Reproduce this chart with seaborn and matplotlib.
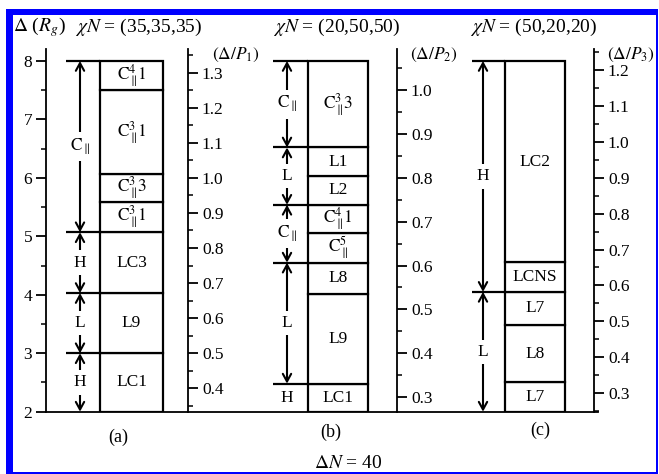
import matplotlib
matplotlib.use('Agg')
import matplotlib.pyplot as plt
from matplotlib.patches import Rectangle
from matplotlib.ticker import MultipleLocator, FixedLocator, FormatStrFormatter
import seaborn as sns

# ---------------- data ----------------
CP = r'$\mathrm{C}_{\parallel}$'
def cpar(sup, tail=''):
    if tail:
        return r'$\mathrm{C}_{\parallel}^{%s}\!\mathrm{%s}$' % (sup, tail)
    return r'$\mathrm{C}_{\parallel}^{%s}$' % sup

# panel (a)  chiN = (35,35,35)
a_bounds = [2.0, 3.0, 4.03, 5.07, 5.59, 6.06, 7.50, 8.0]
a_phases = ['LC1', 'L9', 'LC3', cpar('3', '1'), cpar('3', '3'), cpar('3', '1'), cpar('4', '1')]
a_reg_bounds = [2.0, 3.0, 4.03, 5.07, 8.0]
a_regions = ['H', 'L', 'H', CP]

# panel (b)  chiN = (20,50,50)
b_bounds = [2.0, 2.48, 4.02, 4.55, 5.055, 5.54, 6.03, 6.52, 8.0]
b_phases = ['LC1', 'L9', 'L8', cpar('5'), cpar('4', '1'), 'L2', 'L1', cpar('3', '3')]
b_reg_bounds = [2.48, 4.55, 5.54, 6.52, 8.0]
b_regions = ['L', CP, 'L', CP]
b_base_region = 'H'

# panel (c)  chiN = (50,20,20)
c_bounds = [2.0, 2.50, 3.49, 4.05, 4.56, 8.0]
c_phases = ['L7', 'L8', 'L7', 'LCNS', 'LC2']
c_reg_bounds = [2.0, 4.05, 8.0]
c_regions = ['L', 'H']

# secondary-axis conversions  Delta/R_g = slope * Delta/P + offset
p_slopes = [6.0, 7.5, 6.137]
p_offsets = [0.0, 0.0, 0.479]
p_ticks = [
    [0.4, 0.5, 0.6, 0.7, 0.8, 0.9, 1.0, 1.1, 1.2, 1.3],
    [0.3, 0.4, 0.5, 0.6, 0.7, 0.8, 0.9, 1.0],
    [0.3, 0.4, 0.5, 0.6, 0.7, 0.8, 0.9, 1.0, 1.1, 1.2],
]
p_minor = [
    [0.35, 0.45, 0.55, 0.65, 0.75, 0.85, 0.95, 1.05, 1.15, 1.25, 1.35],
    [0.35, 0.45, 0.55, 0.65, 0.75, 0.85, 0.95, 1.05],
    [0.25, 0.35, 0.45, 0.55, 0.65, 0.75, 0.85, 0.95, 1.05, 1.15, 1.25],
]

left_ticks = [2, 3, 4, 5, 6, 7, 8]
titles = [r'$\chi N$ = (35,35,35)', r'$\chi N$ = (20,50,50)', r'$\chi N$ = (50,20,20)']
panel_tags = ['(a)', '(b)', '(c)']

# ---------------- style ----------------
sns.set_theme(style='ticks')
plt.rcParams['font.family'] = ['Liberation Serif', 'DejaVu Serif']
plt.rcParams['mathtext.fontset'] = 'stix'
plt.rcParams['axes.edgecolor'] = 'black'
plt.rcParams['xtick.color'] = 'black'
plt.rcParams['ytick.color'] = 'black'
plt.rcParams['text.color'] = 'black'
plt.rcParams['axes.linewidth'] = 1.3

W, H = 659, 474
fig = plt.figure(figsize=(W / 100, H / 100), dpi=100)
fig.patch.set_facecolor('white')

x0, x1 = 46, 598
ytop_px, ybot_px = 49.3, 411.7
ax = fig.add_axes([x0 / W, 1 - ybot_px / H, (x1 - x0) / W, (ybot_px - ytop_px) / H])
ax.set_xlim(x0, x1)
ax.set_ylim(2, 8.2)
ax.set_facecolor('white')
for s in ['top', 'right']:
    ax.spines[s].set_visible(False)
ax.set_xticks([])
ax.set_yticks(left_ticks)
ax.yaxis.set_minor_locator(MultipleLocator(0.5))
ax.tick_params(axis='y', which='major', direction='out', length=7, width=1.3,
               labelsize=12.5, pad=3, left=True)
ax.tick_params(axis='y', which='minor', direction='out', length=3.5, width=1.1, left=True)
ax.grid(False)

# layout (pixel-like x units)
layout = [
    dict(col=66, box=(100, 163), arr=80, sec=188),
    dict(col=273, box=(308, 368), arr=287, sec=397),
    dict(col=472, box=(505, 565), arr=483, sec=594),
]
panels = [
    (a_bounds, a_phases, a_reg_bounds, a_regions),
    (b_bounds, b_phases, b_reg_bounds, b_regions),
    (c_bounds, c_phases, c_reg_bounds, c_regions),
]

arrow_style = '<->,head_length=0.55,head_width=0.3'

for i, ((bounds, phases, rb, regions), lay) in enumerate(zip(panels, layout)):
    bl, br = lay['box']
    lows = bounds[:-1]
    heights = [hi - lo for lo, hi in zip(bounds[:-1], bounds[1:])]
    ax.bar([bl] * len(lows), heights, bottom=lows, width=br - bl, align='edge',
           color='white', edgecolor='black', linewidth=1.6, zorder=2)
    for lo, hi, lab in zip(bounds[:-1], bounds[1:], phases):
        ax.text((bl + br) / 2, (lo + hi) / 2, lab, ha='center', va='center',
                fontsize=12.5, zorder=6)
    # region boundary lines in arrow column
    ax.hlines([b for b in rb if b > 2.0], lay['col'], bl, color='black', lw=1.6, zorder=3)
    # arrows
    for lo, hi, lab in zip(rb[:-1], rb[1:], regions):
        ax.annotate('', xy=(lay['arr'], hi), xytext=(lay['arr'], lo),
                    arrowprops=dict(arrowstyle=arrow_style, lw=1.5, color='black',
                                    shrinkA=0, shrinkB=0, mutation_scale=10),
                    zorder=4)
        ax.text(lay['arr'], (lo + hi) / 2, lab, ha='center', va='center', fontsize=12.5,
                bbox=dict(fc='white', ec='none', pad=3), zorder=5)
    # secondary axis
    k, off = p_slopes[i], p_offsets[i]
    loc = (lay['sec'] - x0) / (x1 - x0)
    sec = ax.secondary_yaxis(loc, functions=(lambda y, k=k, off=off: (y - off) / k,
                                             lambda p, k=k, off=off: p * k + off))
    sec.set_alignment('right')
    sec.yaxis.set_major_locator(FixedLocator(p_ticks[i]))
    sec.yaxis.set_minor_locator(FixedLocator(p_minor[i]))
    sec.yaxis.set_major_formatter(FormatStrFormatter('%.1f'))
    sec.tick_params(axis='y', which='major', direction='out', length=7, width=1.3,
                    labelsize=12.5, pad=3)
    sec.tick_params(axis='y', which='minor', direction='out', length=3.5, width=1.1)
    for s in sec.spines.values():
        s.set_linewidth(1.3)
        s.set_color('black')

# bare H label at bottom of panel (b)
ax.text(layout[1]['arr'], (b_bounds[0] + b_bounds[1]) / 2, b_base_region,
        ha='center', va='center', fontsize=12.5, zorder=5)

def fx(px):
    return px / W

def fy(py):
    return 1 - py / H

# headers
fig.text(fx(13), fy(31), r'$\mathit{\Delta}$ ($R_g$)', fontsize=14, va='baseline', ha='left')
for t, xs in zip(titles, [75, 273, 470]):
    fig.text(fx(xs), fy(32), t, fontsize=14, va='baseline', ha='left')
for j, xs in enumerate([212, 410, 607]):
    fig.text(fx(xs), fy(55), r'$(\mathit{\Delta}/P_{%d})$' % (j + 1), fontsize=12.5,
             va='center', ha='left')
for tag, xc, yc in zip(panel_tags, [118, 331, 540], [437, 432, 430]):
    fig.text(fx(xc), fy(yc), tag, fontsize=13, ha='center', va='center')
fig.text(fx(348), fy(467.5), r'$\mathit{\Delta}N$ = 40', fontsize=14, ha='center', va='baseline')

# blue frame
blue = '#0000ff'
frame = [
    (6, 9, 6.5, 474 - 9),       # left thick
    (6, 9, 652, 5.5),           # top thick
    (655.5, 9, 2.5, 474 - 9),   # right thin
    (6, 471.5, 652, 2.2),       # bottom thin
]
for (px, py, pw, ph) in frame:
    fig.add_artist(Rectangle((fx(px), fy(py + ph)), pw / W, ph / H, transform=fig.transFigure,
                             facecolor=blue, edgecolor='none', zorder=10))

fig.savefig('out.png', dpi=100, facecolor='white')
